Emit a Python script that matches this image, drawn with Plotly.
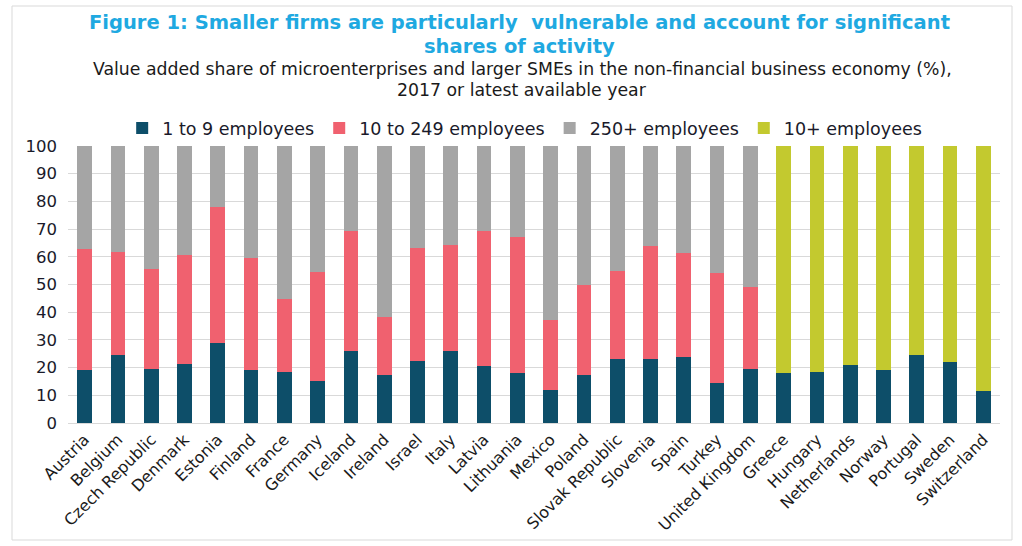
import plotly.graph_objects as go

countries = ["Austria", "Belgium", "Czech Republic", "Denmark", "Estonia", "Finland", "France",
             "Germany", "Iceland", "Ireland", "Israel", "Italy", "Latvia", "Lithuania", "Mexico",
             "Poland", "Slovak Republic", "Slovenia", "Spain", "Turkey", "United Kingdom",
             "Greece", "Hungary", "Netherlands", "Norway", "Portugal", "Sweden", "Switzerland"]

# 1 to 9 employees (%)
micro = [19.0, 24.4, 19.5, 21.4, 28.8, 19.0, 18.4, 15.0, 26.0, 17.4, 22.5, 26.0, 20.4, 18.0, 12.0,
         17.4, 23.0, 23.0, 23.9, 14.4, 19.5,
         17.9, 18.4, 20.9, 19.0, 24.4, 21.9, 11.4]
# 10 to 249 employees (%)
sme = [43.9, 37.4, 36.0, 39.4, 49.3, 40.4, 26.2, 39.4, 43.2, 20.8, 40.8, 38.3, 48.8, 49.2, 25.1,
       32.5, 31.9, 40.8, 37.4, 39.6, 29.5,
       None, None, None, None, None, None, None]
# 250+ employees (%)
large = [37.1, 38.2, 44.5, 39.2, 21.9, 40.6, 55.4, 45.6, 30.8, 61.8, 36.7, 35.7, 30.8, 32.8, 62.9,
         50.1, 45.1, 36.2, 38.7, 46.0, 51.0,
         None, None, None, None, None, None, None]
# 10+ employees (%)
tenplus = [None] * 21 + [82.1, 81.6, 79.1, 81.0, 75.6, 78.1, 88.6]

series_names = ["1 to 9 employees", "10 to 249 employees", "250+ employees", "10+ employees"]
colors = ["#0d4e69", "#f0616f", "#a5a5a5", "#c3c92f"]
y_ticks = [0, 10, 20, 30, 40, 50, 60, 70, 80, 90, 100]

title_lines = ["<b>Figure 1: Smaller firms are particularly  vulnerable and account for significant</b>",
               "<b>shares of activity</b>"]
subtitle_lines = ["Value added share of microenterprises and larger SMEs in the non-financial business economy (%),",
                  "2017 or latest available year"]

fig = go.Figure()
for name, vals, col in zip(series_names, [micro, sme, large, tenplus], colors):
    fig.add_trace(go.Bar(x=countries, y=vals, name=name, marker_color=col,
                         marker_line_width=0))

L, R, T, B = 68, 1000, 146, 423
fig.update_layout(
    barmode="stack",
    bargap=0.56,
    width=1022, height=546,
    margin=dict(l=L, r=1022 - R, t=T, b=546 - B),
    paper_bgcolor="white", plot_bgcolor="white",
    font=dict(family="DejaVu Sans", size=14, color="#1a1a1a"),
    legend=dict(orientation="h", x=0.49, xanchor="center", y=1.0, yanchor="bottom",
                font=dict(size=17.5, family="DejaVu Sans", color="#1a1a2a"),
                traceorder="normal"),
    showlegend=True,
)
fig.update_yaxes(range=[0, 100], tickvals=y_ticks, showgrid=True, gridcolor="#d9d9d9",
                 gridwidth=1, zeroline=False, showline=False, ticklabelstandoff=10,
                 tickfont=dict(size=16.5, family="DejaVu Sans", color="#1a1a2a"), ticks="")
fig.update_xaxes(tickangle=-45, showline=True, linecolor="#d9d9d9", ticks="",
                 tickfont=dict(size=16, family="DejaVu Sans", color="#1a1a1a"))


def py(pix):
    return (B - pix) / (B - T)


def px(pix):
    return (pix - L) / (R - L)


for line, ypix in zip(title_lines, [22, 46]):
    fig.add_annotation(xref="paper", yref="paper", x=px(519), y=py(ypix), xanchor="center",
                       yanchor="middle", showarrow=False, text=line,
                       font=dict(family="DejaVu Sans", size=19.5, color="#1fa9e1"))
for line, ypix in zip(subtitle_lines, [69, 90]):
    fig.add_annotation(xref="paper", yref="paper", x=px(522), y=py(ypix), xanchor="center",
                       yanchor="middle", showarrow=False, text=line,
                       font=dict(family="DejaVu Sans", size=17.3, color="#1a1a1a"))

fig.add_shape(type="rect", xref="paper", yref="paper", x0=px(12), x1=px(1012),
              y0=py(540), y1=py(6), line=dict(color="#d9d9d9", width=1))

fig.write_html("out.html", config={"displayModeBar": False},
               post_script="document.body.style.margin='0px';")
